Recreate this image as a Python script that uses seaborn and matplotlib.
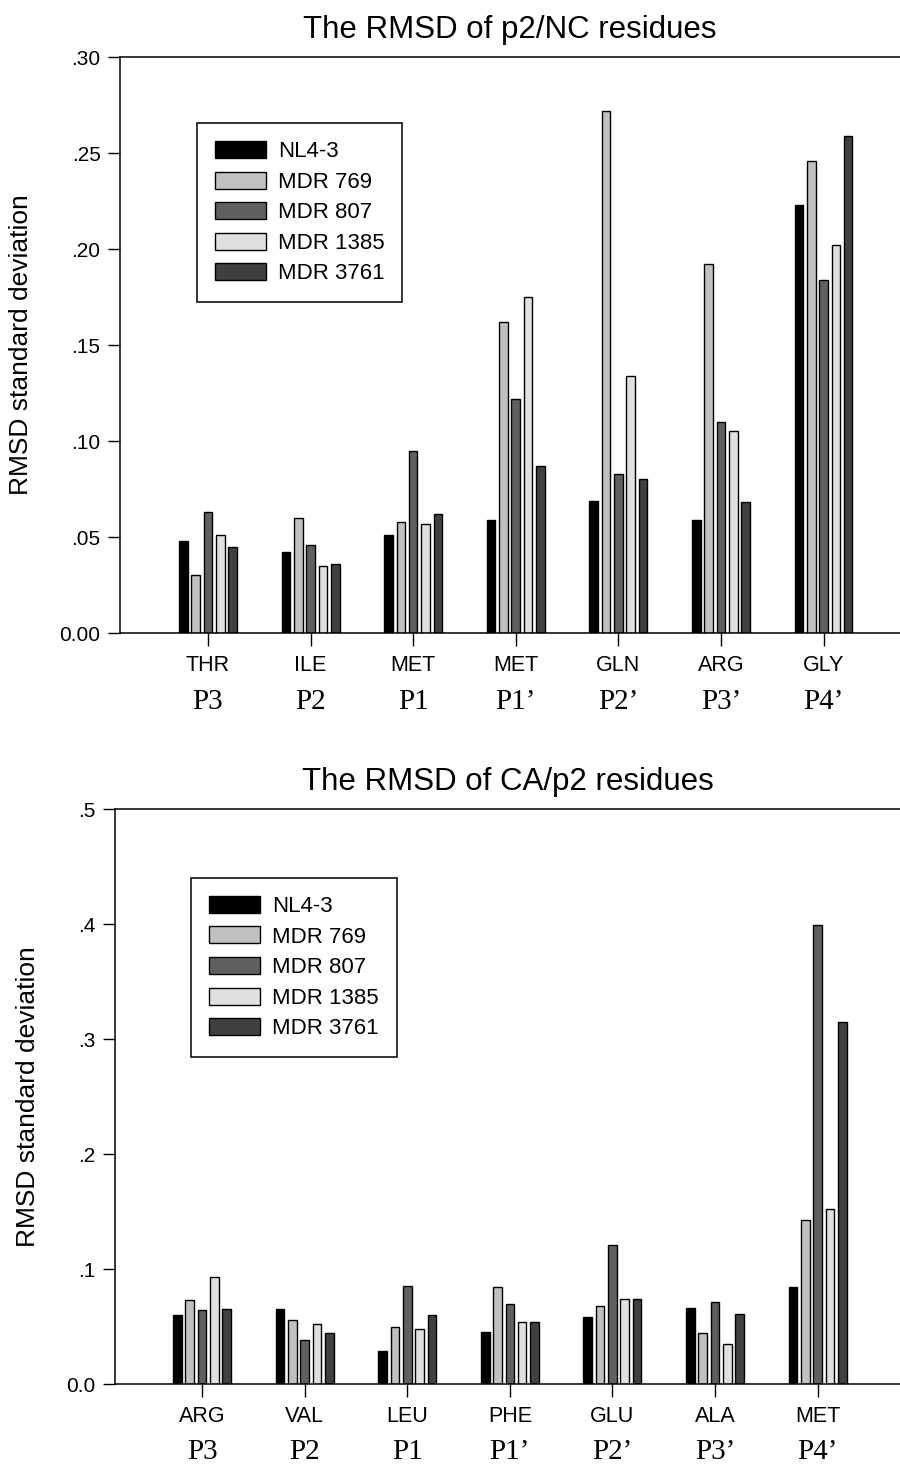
import pandas as pd
import matplotlib
matplotlib.use("Agg")
import matplotlib.pyplot as plt
import matplotlib.transforms as mtransforms
from matplotlib.patches import Patch
from matplotlib.ticker import FuncFormatter, MultipleLocator
import seaborn as sns

# Strains and their grey shades
strains = ["NL4-3", "MDR 769", "MDR 807", "MDR 1385", "MDR 3761"]
colors = ["#000000", "#c0c0c0", "#606060", "#e0e0e0", "#404040"]

# Cleavage site positions
sites = ["P3", "P2", "P1", "P1'", "P2'", "P3'", "P4'"]
site_labels = ["P3", "P2", "P1", "P1\u2019", "P2\u2019", "P3\u2019", "P4\u2019"]

# p2/NC residues
nc_residues = ["THR", "ILE", "MET", "MET", "GLN", "ARG", "GLY"]
nc_nl43 = [0.048, 0.042, 0.051, 0.059, 0.069, 0.059, 0.223]
nc_769 = [0.030, 0.060, 0.058, 0.162, 0.272, 0.192, 0.246]
nc_807 = [0.063, 0.046, 0.095, 0.122, 0.083, 0.110, 0.184]
nc_1385 = [0.051, 0.035, 0.057, 0.175, 0.134, 0.105, 0.202]
nc_3761 = [0.045, 0.036, 0.062, 0.087, 0.080, 0.068, 0.259]

# CA/p2 residues
ca_residues = ["ARG", "VAL", "LEU", "PHE", "GLU", "ALA", "MET"]
ca_nl43 = [0.060, 0.065, 0.029, 0.045, 0.058, 0.066, 0.084]
ca_769 = [0.073, 0.056, 0.050, 0.084, 0.068, 0.044, 0.143]
ca_807 = [0.064, 0.038, 0.085, 0.070, 0.121, 0.071, 0.399]
ca_1385 = [0.093, 0.052, 0.048, 0.054, 0.074, 0.035, 0.152]
ca_3761 = [0.065, 0.044, 0.060, 0.054, 0.074, 0.061, 0.315]


def long_table(series):
    rows = []
    for strain, vals in zip(strains, series):
        for site, v in zip(sites, vals):
            rows.append({"site": site, "strain": strain, "rmsd": v})
    return pd.DataFrame(rows)


def dot_format(decimals):
    def f(v, pos):
        if abs(v) < 1e-9:
            return f"{0:.{decimals}f}"
        return f"{v:.{decimals}f}".lstrip("0")
    return FuncFormatter(f)


sns.set_style("ticks")
plt.rcParams["font.family"] = ["Liberation Sans", "DejaVu Sans"]
plt.rcParams["text.color"] = "black"
plt.rcParams["axes.labelcolor"] = "black"
plt.rcParams["xtick.color"] = "black"
plt.rcParams["ytick.color"] = "black"

fig = plt.figure(figsize=(9, 14.66), dpi=100)
ax1 = fig.add_axes([0.1333, 0.5682, 0.8667, 0.3929])
ax2 = fig.add_axes([0.1278, 0.0559, 0.8722, 0.3922])


def draw(ax, df, residues, ymax, step, decimals, title, xlim, leg_xy, ylab_x):
    sns.barplot(data=df, x="site", y="rmsd", hue="strain", order=sites,
                hue_order=strains, palette=colors, saturation=1, width=0.6,
                gap=0.3, edgecolor="black", linewidth=1, legend=False, ax=ax)
    ax.set_xlim(*xlim)
    ax.set_ylim(0, ymax)
    ax.yaxis.set_major_locator(MultipleLocator(step))
    ax.yaxis.set_major_formatter(dot_format(decimals))
    ax.set_xticks(range(len(sites)))
    ax.set_xticklabels(residues, fontsize=15.5)
    ax.tick_params(axis="x", length=9, width=1, pad=7, colors="black")
    ax.tick_params(axis="y", length=9, width=1, pad=5, labelsize=15, colors="black")
    for side in ["left", "bottom", "top"]:
        ax.spines[side].set_visible(True)
        ax.spines[side].set_color("black")
        ax.spines[side].set_linewidth(1.1)
    ax.spines["right"].set_visible(False)
    ax.set_xlabel("")
    ax.set_ylabel("RMSD standard deviation", fontsize=19)
    ax.yaxis.set_label_coords(ylab_x, 0.5)
    ax.set_title(title, fontsize=22.5, pad=14)

    trans = mtransforms.blended_transform_factory(ax.transData, ax.transAxes)
    for i, lab in enumerate(site_labels):
        ax.text(i, -0.119, lab, transform=trans, ha="center", va="center",
                fontsize=21, family=["Liberation Serif", "DejaVu Serif"])

    handles = [Patch(facecolor=c, edgecolor="black", linewidth=1) for c in colors]
    leg = ax.legend(handles, strains, loc="upper left", bbox_to_anchor=leg_xy,
                    frameon=True, fancybox=False, edgecolor="black", framealpha=1,
                    fontsize=16, handlelength=2.3, handleheight=0.8,
                    handletextpad=0.55, borderpad=0.8, labelspacing=0.42,
                    borderaxespad=0)
    leg.get_frame().set_linewidth(1.1)


draw(ax1, long_table([nc_nl43, nc_769, nc_807, nc_1385, nc_3761]), nc_residues,
     0.30, 0.05, 2, "The RMSD of p2/NC residues", (-0.858, 6.745),
     (0.0987, 0.885), -0.1115)
draw(ax2, long_table([ca_nl43, ca_769, ca_807, ca_1385, ca_3761]), ca_residues,
     0.5, 0.1, 1, "The RMSD of CA/p2 residues", (-0.848, 6.803),
     (0.0968, 0.880), -0.0955)

fig.savefig("out.png", dpi=100)
